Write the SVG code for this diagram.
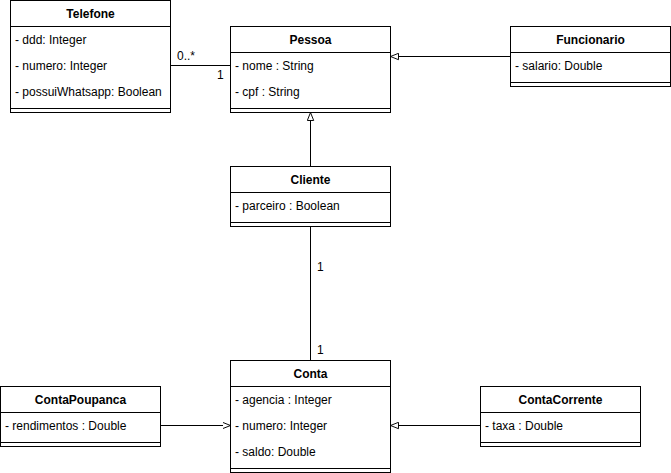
<svg xmlns="http://www.w3.org/2000/svg" width="671" height="473" viewBox="0 0 671 473">
<defs>
<style>
.box{fill:#fff;stroke:#000;stroke-width:1}
.ln{stroke:#000;stroke-width:1;fill:none}
.h{font-family:"Liberation Sans",Arial,sans-serif;font-size:12px;font-weight:bold;text-anchor:middle;fill:#000}
.a{font-family:"Liberation Sans",Arial,sans-serif;font-size:12px;fill:#000}
.lbl{font-family:"Liberation Sans",Arial,sans-serif;font-size:12px;fill:#000}
</style>
<marker id="tri" viewBox="0 0 10 10" refX="10" refY="5" markerWidth="8" markerHeight="8" markerUnits="userSpaceOnUse" orient="auto">
<path d="M0,1 L10,5 L0,9 Z" fill="#fff" stroke="#000" stroke-width="1.2"/>
</marker>
</defs>
<rect width="671" height="473" fill="#fff"/>
<g id="connectors">
<path class="ln" d="M170.5,65.5 H230.5"/>
<text class="lbl" x="177" y="60">0..*</text>
<text class="lbl" x="217" y="79">1</text>
<path class="ln" d="M510.5,56.5 H390.5" marker-end="url(#tri)"/>
<path class="ln" d="M310.5,166.5 V112.5" marker-end="url(#tri)"/>
<path class="ln" d="M310.5,226.5 V360.5"/>
<text class="lbl" x="317" y="271">1</text>
<text class="lbl" x="317" y="354">1</text>
<path class="ln" d="M160.5,425.5 H230.5" marker-end="url(#tri)"/>
<path class="ln" d="M480.5,425.5 H390.5" marker-end="url(#tri)"/>
</g>
<g id="Telefone">
<rect class="box" x="10.5" y="0.5" width="160" height="112"/>
<path class="ln" d="M10.5,26.5 H170.5 M10.5,108.5 H170.5"/>
<text class="h" x="90.5" y="18">Telefone</text>
<text class="a" x="15" y="44">- ddd: Integer</text>
<text class="a" x="15" y="70">- numero: Integer</text>
<text class="a" x="15" y="96">- possuiWhatsapp: Boolean</text>
</g>
<g id="Pessoa">
<rect class="box" x="230.5" y="26.5" width="160" height="86"/>
<path class="ln" d="M230.5,52.5 H390.5 M230.5,108.5 H390.5"/>
<text class="h" x="310.5" y="44">Pessoa</text>
<text class="a" x="235" y="70">- nome : String</text>
<text class="a" x="235" y="96">- cpf : String</text>
</g>
<g id="Funcionario">
<rect class="box" x="510.5" y="26.5" width="160" height="60"/>
<path class="ln" d="M510.5,52.5 H670.5 M510.5,82.5 H670.5"/>
<text class="h" x="590.5" y="44">Funcionario</text>
<text class="a" x="515" y="70">- salario: Double</text>
</g>
<g id="Cliente">
<rect class="box" x="230.5" y="166.5" width="160" height="60"/>
<path class="ln" d="M230.5,192.5 H390.5 M230.5,222.5 H390.5"/>
<text class="h" x="310.5" y="184">Cliente</text>
<text class="a" x="235" y="210">- parceiro : Boolean</text>
</g>
<g id="Conta">
<rect class="box" x="230.5" y="360.5" width="160" height="112"/>
<path class="ln" d="M230.5,386.5 H390.5 M230.5,468.5 H390.5"/>
<text class="h" x="310.5" y="378">Conta</text>
<text class="a" x="235" y="404">- agencia : Integer</text>
<text class="a" x="235" y="430">- numero: Integer</text>
<text class="a" x="235" y="456">- saldo: Double</text>
</g>
<g id="ContaPoupanca">
<rect class="box" x="0.5" y="386.5" width="160" height="60"/>
<path class="ln" d="M0.5,412.5 H160.5 M0.5,442.5 H160.5"/>
<text class="h" x="80.5" y="404">ContaPoupanca</text>
<text class="a" x="5" y="430">- rendimentos : Double</text>
</g>
<g id="ContaCorrente">
<rect class="box" x="480.5" y="386.5" width="160" height="60"/>
<path class="ln" d="M480.5,412.5 H640.5 M480.5,442.5 H640.5"/>
<text class="h" x="560.5" y="404">ContaCorrente</text>
<text class="a" x="485" y="430">- taxa : Double</text>
</g>
</svg>
